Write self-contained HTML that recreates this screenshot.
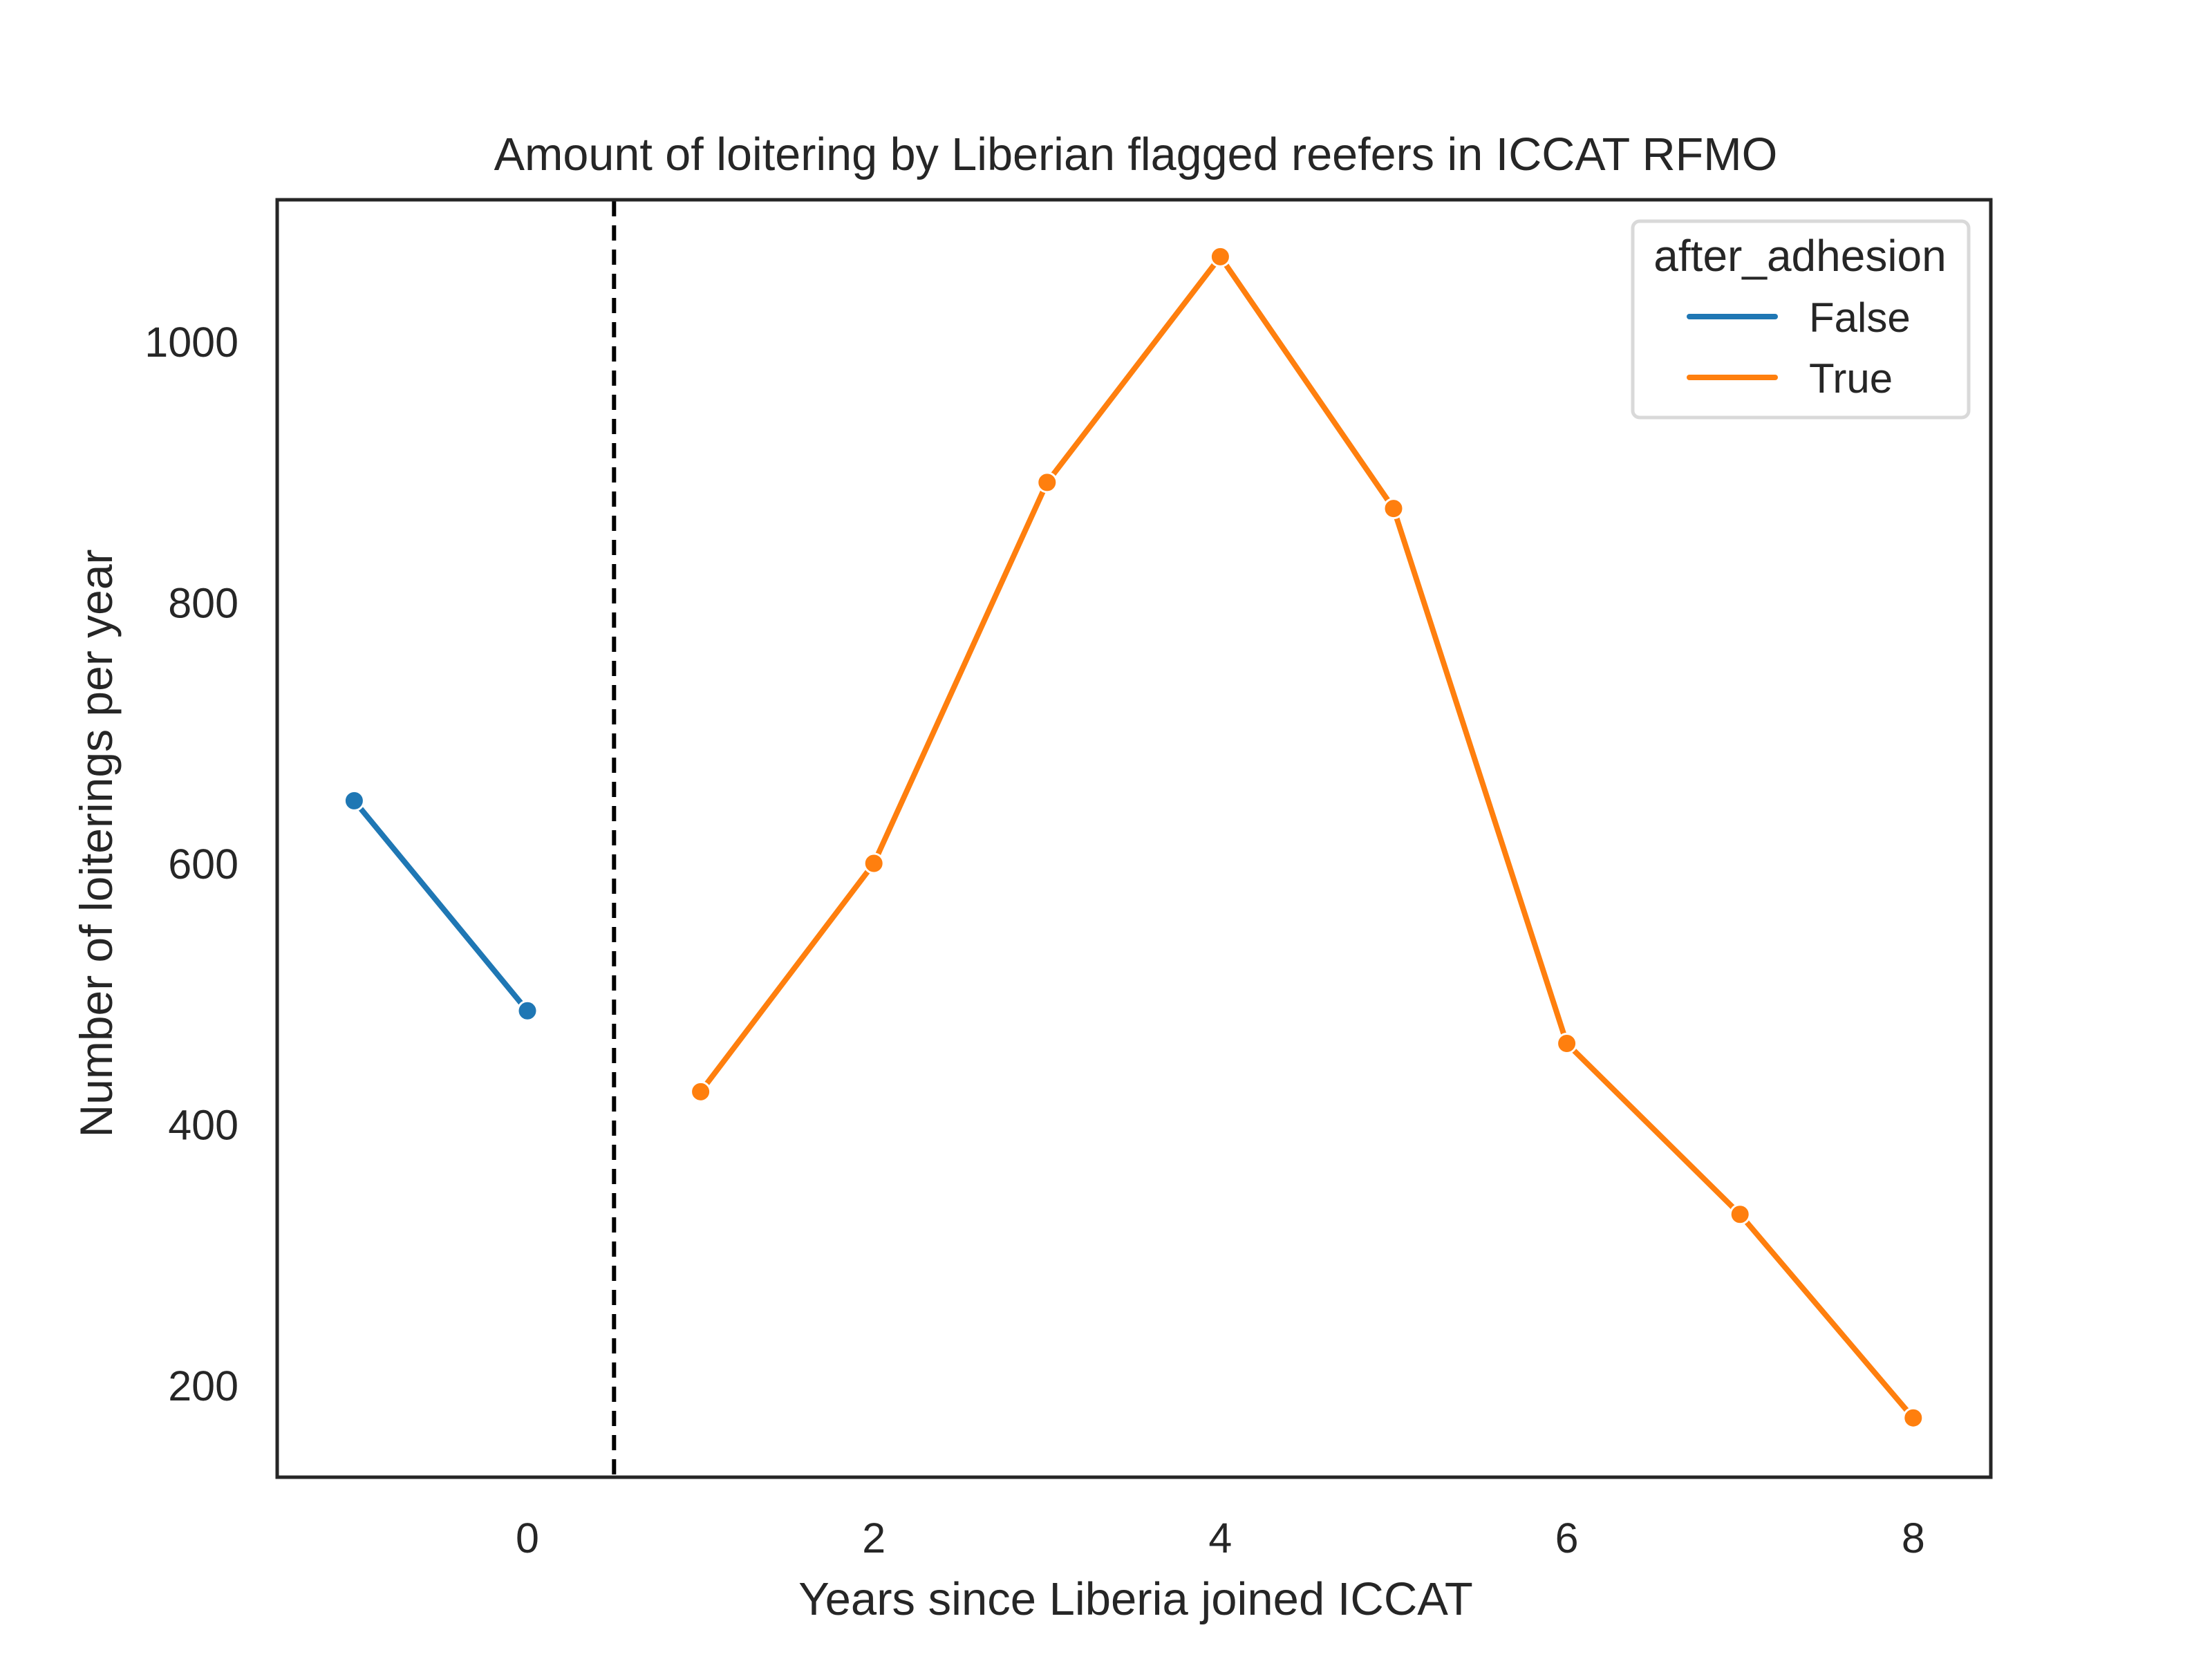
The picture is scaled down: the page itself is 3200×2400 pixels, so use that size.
<!DOCTYPE html>
<html><head><meta charset="utf-8"><style>
html,body{margin:0;padding:0;background:#fff;}
svg{display:block;font-family:"Liberation Sans",Arial,sans-serif;}
</style></head><body>
<svg id="chart" width="3200" height="2400" viewBox="0 0 3200 2400" xmlns="http://www.w3.org/2000/svg">
<rect width="3200" height="2400" fill="#fff"/>
<text x="1643" y="246" text-anchor="middle" font-size="66.5" fill="#262626">Amount of loitering by Liberian flagged reefers in ICCAT RFMO</text>
<g id="grid"></g>
<g id="series"></g>
<rect x="401" y="289" width="2479" height="1848" fill="none" stroke="#262626" stroke-width="5"/>
<text x="1643" y="2336" text-anchor="middle" font-size="67" fill="#262626">Years since Liberia joined ICCAT</text>
<text transform="translate(162,1220) rotate(-90)" text-anchor="middle" font-size="66" fill="#262626">Number of loiterings per year</text>
<g>
<rect x="2362" y="320" width="486" height="284" rx="10" fill="#fff" fill-opacity="0.8" stroke="#d9d9d9" stroke-width="5"/>
<text x="2604" y="392" text-anchor="middle" font-size="64" fill="#262626">after_adhesion</text>
<line x1="2444" y1="458" x2="2568" y2="458" stroke="#1f77b4" stroke-width="8" stroke-linecap="round"/>
<text x="2617" y="480" font-size="60" fill="#262626">False</text>
<line x1="2444" y1="546" x2="2568" y2="546" stroke="#ff7f0e" stroke-width="8" stroke-linecap="round"/>
<text x="2617" y="568" font-size="60" fill="#262626">True</text>
</g>
</svg>
<script>
const yearsFalse = [-1, 0];
const valuesFalse = [648, 487];
const yearsTrue = [1, 2, 3, 4, 5, 6, 7, 8];
const valuesTrue = [425, 600, 892, 1065, 872, 462, 331, 175];
const xTicks = [0, 2, 4, 6, 8];
const yTicks = [200, 400, 600, 800, 1000];
const adhesionX = 0.5;

const NS = "http://www.w3.org/2000/svg";
function xs(v){ return 763 + v * 250.6; }
function ys(v){ return 494 + (1000 - v) * 1.8875; }
const grid = document.getElementById('grid');
const series = document.getElementById('series');
function mk(tag, attrs, parent){
  const e = document.createElementNS(NS, tag);
  for (const k in attrs) e.setAttribute(k, attrs[k]);
  parent.appendChild(e);
  return e;
}
xTicks.forEach(t => {
  const e = mk('text', {x: xs(t), y: 2246, 'text-anchor': 'middle', 'font-size': 61, fill: '#262626'}, grid);
  
  
  e.textContent = t;
});
yTicks.forEach(t => {
  const e = mk('text', {x: 345, y: ys(t) + 22, 'text-anchor': 'end', 'font-size': 61, fill: '#262626'}, grid);
  
  
  e.textContent = t;
});
const dl = mk('line', {x1: xs(adhesionX), x2: xs(adhesionX), y1: 291, y2: 2135, stroke: '#000', 'stroke-width': 6, 'stroke-dasharray': '22 13'}, series);


function drawSeries(xsArr, vals, color, name){
  const pts = xsArr.map((x, i) => xs(x) + ',' + ys(vals[i])).join(' ');
  const pl = mk('polyline', {points: pts, fill: 'none', stroke: color, 'stroke-width': 8, 'stroke-linejoin': 'round', 'stroke-linecap': 'round'}, series);
  
  
  xsArr.forEach((x, i) => {
    const c = mk('circle', {cx: xs(x), cy: ys(vals[i]), r: 14, fill: color, stroke: '#fff', 'stroke-width': 3}, series);
    
    
  });
}
drawSeries(yearsFalse, valuesFalse, '#1f77b4', 'false-series');
drawSeries(yearsTrue, valuesTrue, '#ff7f0e', 'true-series');
</script>
</body></html>
